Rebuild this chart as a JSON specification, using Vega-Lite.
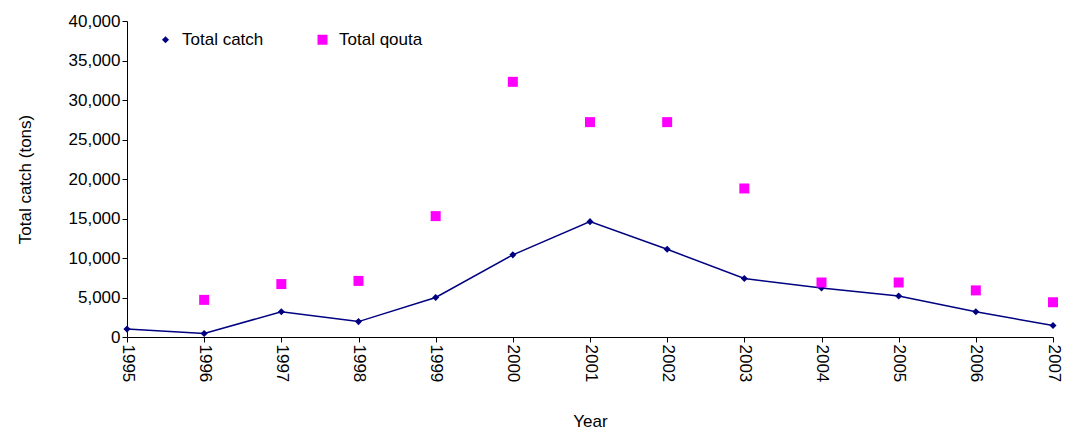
{
"$schema":"https://vega.github.io/schema/vega-lite/v6.json",
"width":926,"height":316,
"autosize":{"type":"none"},
"padding":{"left":127,"top":21,"right":12,"bottom":99},
"background":"white",
"config":{"font":"Liberation Sans","view":{"stroke":null},"axis":{"grid":false,"domainColor":"black","tickColor":"black","labelColor":"black","titleColor":"black","labelFontSize":17,"titleFontSize":17,"titleFontWeight":"normal"}},
"data":{"values":[
{"year":1995,"series":"Total catch","v":1000},{"year":1996,"series":"Total catch","v":450},{"year":1997,"series":"Total catch","v":3200},{"year":1998,"series":"Total catch","v":1950},{"year":1999,"series":"Total catch","v":5000},{"year":2000,"series":"Total catch","v":10400},{"year":2001,"series":"Total catch","v":14600},{"year":2002,"series":"Total catch","v":11100},{"year":2003,"series":"Total catch","v":7400},{"year":2004,"series":"Total catch","v":6200},{"year":2005,"series":"Total catch","v":5200},{"year":2006,"series":"Total catch","v":3200},{"year":2007,"series":"Total catch","v":1450},
{"year":1996,"series":"Total qouta","v":4700},{"year":1997,"series":"Total qouta","v":6700},{"year":1998,"series":"Total qouta","v":7100},{"year":1999,"series":"Total qouta","v":15300},{"year":2000,"series":"Total qouta","v":32300},{"year":2001,"series":"Total qouta","v":27200},{"year":2002,"series":"Total qouta","v":27200},{"year":2003,"series":"Total qouta","v":18800},{"year":2004,"series":"Total qouta","v":6900},{"year":2005,"series":"Total qouta","v":6900},{"year":2006,"series":"Total qouta","v":5900},{"year":2007,"series":"Total qouta","v":4400}
]},
"encoding":{
"x":{"field":"year","type":"quantitative","scale":{"domain":[1995,2007],"nice":false,"zero":false},"axis":{"title":"Year","format":"d","values":[1995,1996,1997,1998,1999,2000,2001,2002,2003,2004,2005,2006,2007],"labelAngle":90,"labelAlign":"left","labelBaseline":"middle","titlePadding":32}},
"y":{"field":"v","type":"quantitative","scale":{"domain":[0,40000]},"axis":{"title":"Total catch (tons)","format":",.0f","values":[0,5000,10000,15000,20000,25000,30000,35000,40000],"titlePadding":34}}
},
"layer":[
{"transform":[{"filter":"datum.series=='Total catch'"}],"mark":{"type":"line","color":"#000080","strokeWidth":1.5},"encoding":{}},
{"mark":{"type":"point","filled":true,"opacity":1},
"encoding":{
"color":{"field":"series","type":"nominal","scale":{"domain":["Total catch","Total qouta"],"range":["#000080","#FF00FF"]},"legend":{"title":null,"orient":"none","legendX":30,"legendY":10,"direction":"horizontal","labelFontSize":17,"labelColor":"black","columnPadding":50,"symbolSize":100,"labelOffset":8}},
"shape":{"field":"series","type":"nominal","scale":{"domain":["Total catch","Total qouta"],"range":["diamond","square"]}},
"size":{"field":"series","type":"nominal","scale":{"domain":["Total catch","Total qouta"],"range":[50,100]},"legend":null}
}}
]
}
